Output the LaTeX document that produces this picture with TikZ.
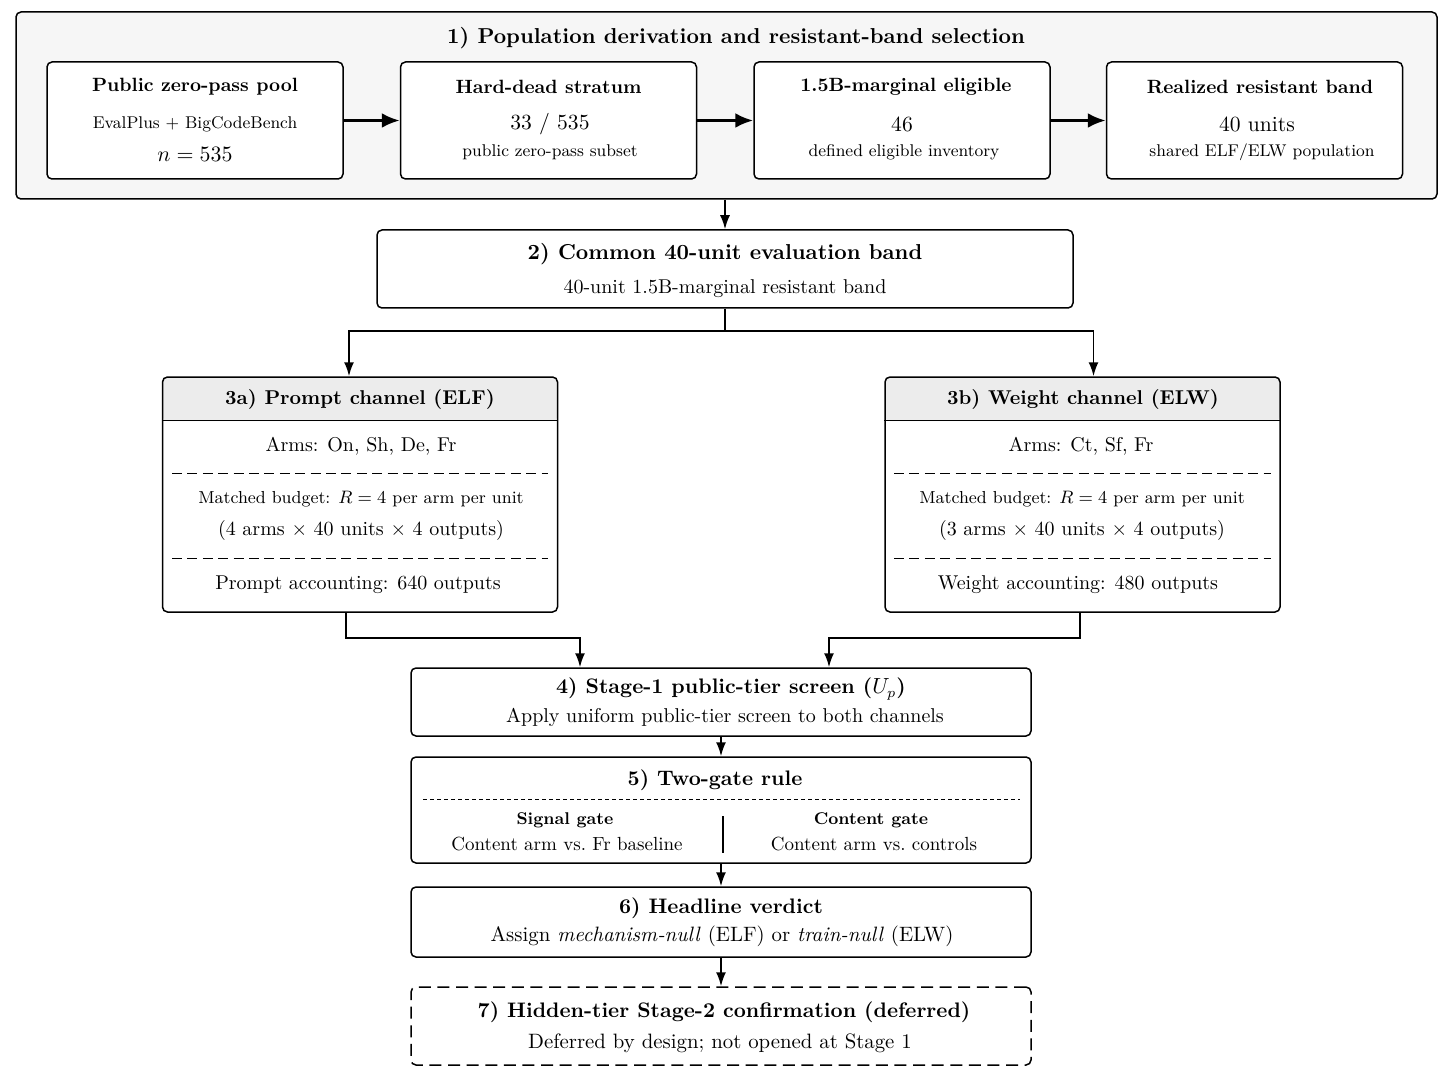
\documentclass[tikz,border=0pt]{standalone}
\usetikzlibrary{arrows.meta, positioning, calc}
\definecolor{panelgray}{RGB}{246,246,246}
\definecolor{headgray}{RGB}{236,236,236}

\begin{document}
\begin{tikzpicture}[x=0.5pt, y=-0.5pt,
  box/.style={draw, rounded corners=2.5pt, line width=0.75pt, fill=white, inner sep=0pt},
  popbox/.style={box, minimum width=148pt, minimum height=58.5pt},
  chanbox/.style={box, minimum width=197.5pt, minimum height=117.5pt,
    path picture={\fill[headgray] (path picture bounding box.north west)
      rectangle ([yshift=-22pt]path picture bounding box.north east);}},
  stagebox/.style={box, minimum width=310pt},
  ttl/.style={font=\fontsize{10.8}{12}\selectfont\bfseries},
  sttl/.style={font=\fontsize{10.5}{12}\selectfont\bfseries},
  hd/.style={font=\fontsize{9.6}{11}\selectfont\bfseries},
  chd/.style={font=\fontsize{10}{12}\selectfont\bfseries},
  gatehd/.style={font=\fontsize{8.5}{10}\selectfont\bfseries},
  big/.style={font=\fontsize{10.8}{12}\selectfont},
  txt/.style={font=\fontsize{10}{12}\selectfont},
  wtxt/.style={font=\fontsize{10.4}{12}\selectfont},
  gtxt/.style={font=\fontsize{9.5}{11}\selectfont},
  mtxt/.style={font=\fontsize{8.7}{10}\selectfont},
  sml/.style={font=\fontsize{8.5}{10}\selectfont},
  flow/.style={-{Latex[length=7pt,width=5pt]}, line width=0.9pt},
  bigflow/.style={-{Latex[length=9pt,width=7.5pt]}, line width=1.5pt},
  sepdash/.style={line width=0.5pt, dash pattern=on 5pt off 2.7pt},
]
  \useasboundingbox (0,0) rectangle (1448,1086);

  % 1) population derivation
  \node[box, fill=panelgray, minimum width=710.5pt, minimum height=93.5pt] (pop) at (726.5,105.5) {};
  \node[ttl] (popT) at (736,38) {1) Population derivation and resistant-band selection};

  \node[popbox] (pool) at (195,120.5) {};
  \node[popbox] (dead) at (548.5,120.5) {};
  \node[popbox] (elig) at (902,120.5) {};
  \node[popbox] (band) at (1254.5,120.5) {};

  \node[hd] (poolT) at (195,87) {Public zero-pass pool};
  \node[sml] (poolA) at (195,124) {EvalPlus + BigCodeBench};
  \node[big] (poolB) at (195,154) {$n = 535$};
  \node[hd] (deadT) at (548.5,87) {Hard-dead stratum};
  \node[big] (deadA) at (550,124) {33 / 535};
  \node[sml] (deadB) at (550,152) {public zero-pass subset};
  \node[hd] (eligT) at (906,87) {1.5B-marginal eligible};
  \node[big] (eligA) at (902,124) {46};
  \node[sml] (eligB) at (904,152) {defined eligible inventory};
  \node[hd] (bandT) at (1260,87) {Realized resistant band};
  \node[big] (bandA) at (1257,124) {40 units};
  \node[sml] (bandB) at (1262,152) {shared ELF/ELW population};

  \draw[bigflow] (pool.east) -- (dead.west);
  \draw[bigflow] (dead.east) -- (elig.west);
  \draw[bigflow] (elig.east) -- (band.west);

  % 2) common band
  \node[box, minimum width=348pt, minimum height=39pt] (common) at (725,269) {};
  \node[ttl] (commonT) at (725,254) {2) Common 40-unit evaluation band};
  \node[txt] (commonA) at (725,289) {40-unit 1.5B-marginal resistant band};
  \draw[flow] (common.north |- pop.south) -- (common.north);

  % 3a / 3b) channels
  \node[chanbox] (elf) at (360,494.5) {};
  \node[chanbox] (elw) at (1082.5,494.5) {};
  \foreach \ch in {elf,elw}{
    \draw[line width=0.6pt] ([yshift=-22pt]\ch.north west) -- ([yshift=-22pt]\ch.north east);
  }
  \draw[sepdash] (172,473) -- (548,473);
  \draw[sepdash] (172,558) -- (548,558);
  \draw[sepdash] (894,473) -- (1271,473);
  \draw[sepdash] (894,558) -- (1271,558);

  \node[chd] (elfT) at (360,399) {3a) Prompt channel (ELF)};
  \node[txt] (elfA) at (361,446) {Arms: On, Sh, De, Fr};
  \node[mtxt] (elfB) at (361,499) {Matched budget: $R = 4$ per arm per unit};
  \node[txt] (elfC) at (361,530) {(4 arms $\times$ 40 units $\times$ 4 outputs)};
  \node[txt] (elfD) at (358,585) {Prompt accounting: 640 outputs};

  \node[chd] (elwT) at (1083,399) {3b) Weight channel (ELW)};
  \node[txt] (elwA) at (1081,446) {Arms: Ct, Sf, Fr};
  \node[mtxt] (elwB) at (1082,499) {Matched budget: $R = 4$ per arm per unit};
  \node[txt] (elwC) at (1082,530) {(3 arms $\times$ 40 units $\times$ 4 outputs)};
  \node[txt] (elwD) at (1078,585) {Weight accounting: 480 outputs};

  \draw[line width=0.9pt] (common.south) -- ++(0,22) coordinate (split);
  \draw[flow] (split) -| ([xshift=-5.5pt]elf.north);
  \draw[flow] (split) -| ([xshift=5.5pt]elw.north);

  % 4) screen
  \node[stagebox, minimum height=34pt] (screen) at (721,702) {};
  \node[sttl] (screenT) at (731,689) {4) Stage-1 public-tier screen ($U_p$)};
  \node[txt] (screenA) at (725,717) {Apply uniform public-tier screen to both channels};
  \draw[flow] ([xshift=-7pt]elf.south) -- ++(0,25) -| ([xshift=-70.5pt]screen.north);
  \draw[flow] ([xshift=-1.25pt]elw.south) -- ++(0,25) -| ([xshift=54pt]screen.north);

  % 5) two-gate rule
  \node[stagebox, minimum height=53pt] (gate) at (721,810) {};
  \node[sttl] (gateT) at (715,780) {5) Two-gate rule};
  \draw[line width=0.4pt, dash pattern=on 2pt off 1.5pt] (423,799) -- (1020,799);
  \node[gatehd] (sigT) at (565,820) {Signal gate};
  \node[gtxt] (sigA) at (567,844) {Content arm vs.\ Fr baseline};
  \node[gatehd] (conT) at (871,820) {Content gate};
  \node[gtxt] (conA) at (874,844) {Content arm vs.\ controls};
  \draw[line width=0.75pt] (723,816) -- (723,853);
  \draw[flow] (screen.south) -- (gate.north);

  % 6) verdict
  \node[stagebox, minimum height=35pt] (verdict) at (721,922) {};
  \node[sttl] (verdictT) at (721,908) {6) Headline verdict};
  \node[wtxt] (verdictA) at (722,936) {Assign \emph{mechanism-null} (ELF) or \emph{train-null} (ELW)};
  \draw[flow] (gate.south) -- (verdict.north);

  % 7) deferred
  \node[stagebox, dash pattern=on 6pt off 3.3pt, minimum height=39pt] (hidden) at (721,1026) {};
  \node[sttl] (hiddenT) at (724,1012) {7) Hidden-tier Stage-2 confirmation (deferred)};
  \node[wtxt] (hiddenA) at (720,1043) {Deferred by design; not opened at Stage 1};
  \draw[flow] (verdict.south) -- (hidden.north);
\end{tikzpicture}
\end{document}
